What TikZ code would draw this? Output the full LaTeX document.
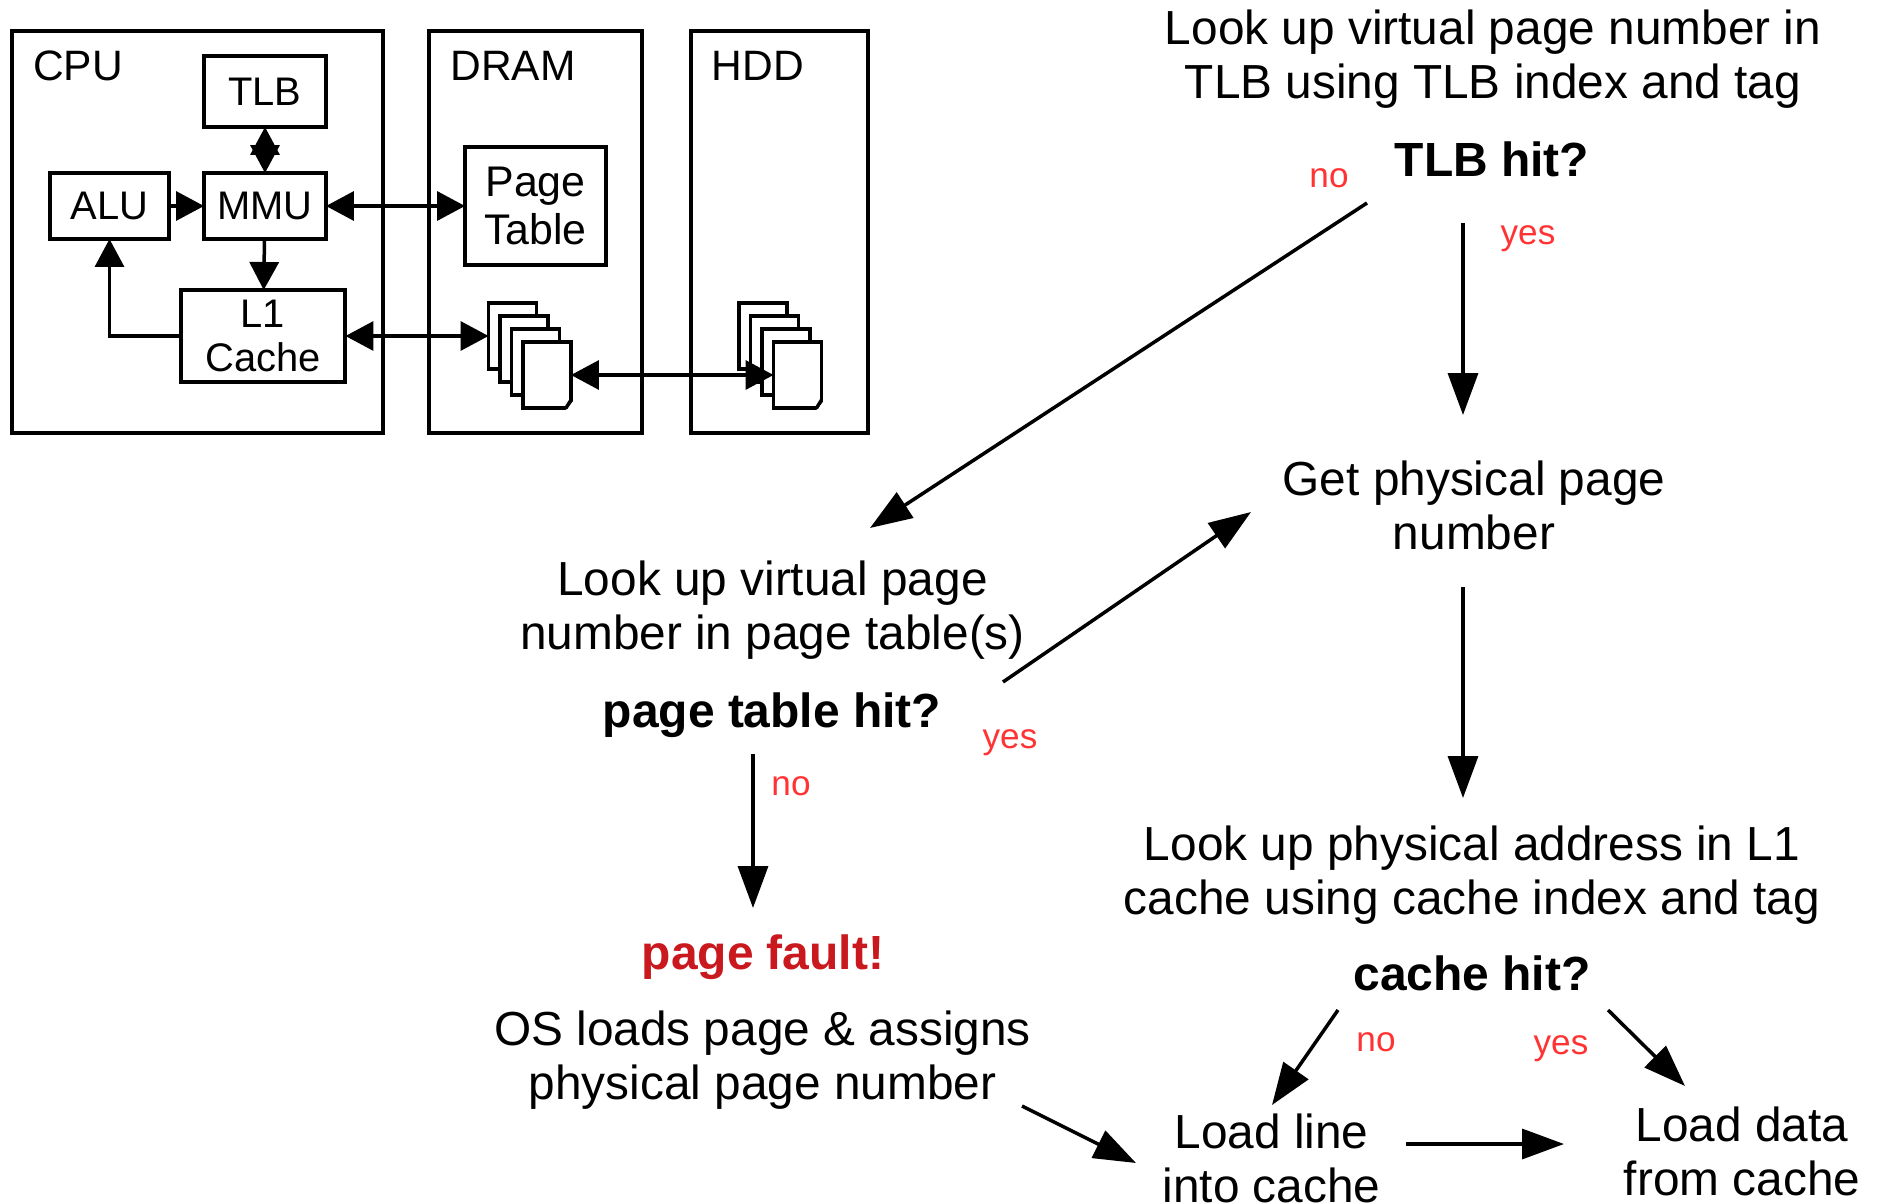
\documentclass[tikz,border=0pt]{standalone}
\usepackage{fontspec}
\setmainfont{Liberation Sans}
\usetikzlibrary{arrows.meta}

\definecolor{labelred}{HTML}{FF3333}
\definecolor{faultred}{HTML}{C9181E}

\tikzset{
    unit/.style={draw,line width=.08cm,inner sep=0pt,outer sep=0pt,align=center,
        font=\fontsize{22.7}{25}\selectfont},
    part/.style={inner sep=0pt,font=\fontsize{24.2}{28}\selectfont},
    pagesheet/.style={draw,fill=white,line width=.07cm,inner sep=0pt,outer sep=0pt,
        minimum width=.96cm,minimum height=1.32cm},
    wire/.style={line width=.07cm,{Triangle[length=.56cm,width=.58cm]}-{Triangle[length=.56cm,width=.58cm]}},
    wireto/.style={line width=.07cm,-{Triangle[length=.56cm,width=.58cm]}},
    flowarrow/.style={line width=.07cm,-{Triangle[length=.84cm,width=.6cm]}},
    flowtext/.style={inner sep=0pt,align=center,font=\fontsize{27.2}{30.8}\selectfont},
    flowtest/.style={inner sep=0pt,font=\fontsize{27.3}{31}\selectfont\bfseries},
    answer/.style={inner sep=0pt,text=labelred,font=\fontsize{20}{23}\selectfont}
}

\begin{document}
\begin{tikzpicture}[x=.02cm,y=-.02cm]

    \useasboundingbox (0,0) rectangle (1877,1203);

    % memory hierarchy
    \node[unit,minimum width=7.42cm,minimum height=8.04cm] (cpu) at (197.5,232) {};
    \node[unit,minimum width=4.26cm,minimum height=8.04cm] (dram) at (535.5,232) {};
    \node[unit,minimum width=3.54cm,minimum height=8.04cm] (hdd) at (779.5,232) {};
    \node[part] (cpulabel) at (78,66) {CPU};
    \node[part] (dramlabel) at (513,66) {DRAM};
    \node[part] (hddlabel) at (758,66) {HDD};

    \node[unit,minimum width=2.44cm,minimum height=1.42cm] (tlb) at (265,91.5) {TLB};
    \node[unit,minimum width=2.4cm,minimum height=1.32cm] (alu) at (109.5,206) {ALU};
    \node[unit,minimum width=2.44cm,minimum height=1.32cm] (mmu) at (265,206) {MMU};
    \node[unit,minimum width=3.3cm,minimum height=1.84cm] (l1) at (263,336) {L1\\Cache};
    \node[unit,minimum width=2.82cm,minimum height=2.36cm,
        font=\fontsize{24.4}{27}\selectfont] (pagetable) at (535.5,206) {Page\\Table};

    \foreach \i in {1,...,4}{%
        \node[pagesheet] (drampage\i) at (501+11.5*\i,323+13*\i) {};
        \node[pagesheet] (hddpage\i) at (751.5+11.5*\i,323+13*\i) {};
    }
    \foreach \sheet in {drampage4,hddpage4}{%
        \fill[white] ([shift={(3,-8)}]\sheet.south east) -- ([shift={(3,3)}]\sheet.south east) -- ([shift={(-6,3)}]\sheet.south east) -- cycle;
        \draw[line width=.07cm,line cap=round] ([yshift=.16cm]\sheet.south east) -- ([xshift=-.1cm]\sheet.south east);
    }

    \draw[wire] (tlb) -- (mmu);
    \draw[wire] (mmu) -- (pagetable);
    \draw[wireto] (alu) -- (mmu);
    \draw[wireto] (mmu) -- (l1);
    \draw[wireto] (l1.west) -| (alu.south);
    \draw[wire] (l1) -- (drampage1.west);
    \draw[wire] (drampage4.east) -- (hddpage4.west);

    % lookup flow
    \node[flowtext] (lookuptlb) at (1493,59.5) {Look up virtual page number in\\TLB using TLB index and tag};
    \node[flowtest] (tlbhit) at (1492,159.5) {TLB hit?};
    \node[flowtext] (getpage) at (1474,505) {Get physical page\\number};
    \node[flowtext] (lookuppt) at (772.5,610.5) {Look up virtual page\\number in page table(s)};
    \node[flowtest] (pthit) at (772,715) {page table hit?};
    \node[flowtest,text=faultred] (pagefault) at (763,957) {page fault!};
    \node[flowtext] (osload) at (762.5,1060) {OS loads page \& assigns\\physical page number};
    \node[flowtext] (lookupl1) at (1472,875) {Look up physical address in L1\\cache using cache index and tag};
    \node[flowtest] (cachehit) at (1472,973) {cache hit?};
    \node[flowtext] (loadline) at (1271.5,1158) {Load line\\into cache};
    \node[flowtext] (loaddata) at (1742,1151) {Load data\\from cache};

    \node[answer] (tlbno) at (1329,178) {no};
    \node[answer] (tlbyes) at (1528,239) {yes};
    \node[answer] (ptyes) at (1010,743) {yes};
    \node[answer] (ptno) at (791,786) {no};
    \node[answer] (cacheno) at (1376,1042) {no};
    \node[answer] (cacheyes) at (1561,1049) {yes};

    \foreach \src/\sx/\sy/\dst/\dx/\dy in {%
        tlbhit/-125/43.5/lookuppt/97.5/-82.5,
        tlbhit/-29/63.5/getpage/-11/-90,
        pthit/231/-33/getpage/-223/7,
        getpage/-11/82/lookupl1/-9/-77,
        pthit/-19/39/pagefault/-10/-49,
        osload/259.5/46/loadline/-135.5/5,
        cachehit/-134/37/loadline/.5/-53,
        cachehit/136/37/loaddata/-57/-65,
        loadline/134.5/-14/loaddata/-178/-7}{%
        \draw[flowarrow] ([shift={(\sx,\sy)}]\src.center) -- ([shift={(\dx,\dy)}]\dst.center);
    }
\end{tikzpicture}
\end{document}
